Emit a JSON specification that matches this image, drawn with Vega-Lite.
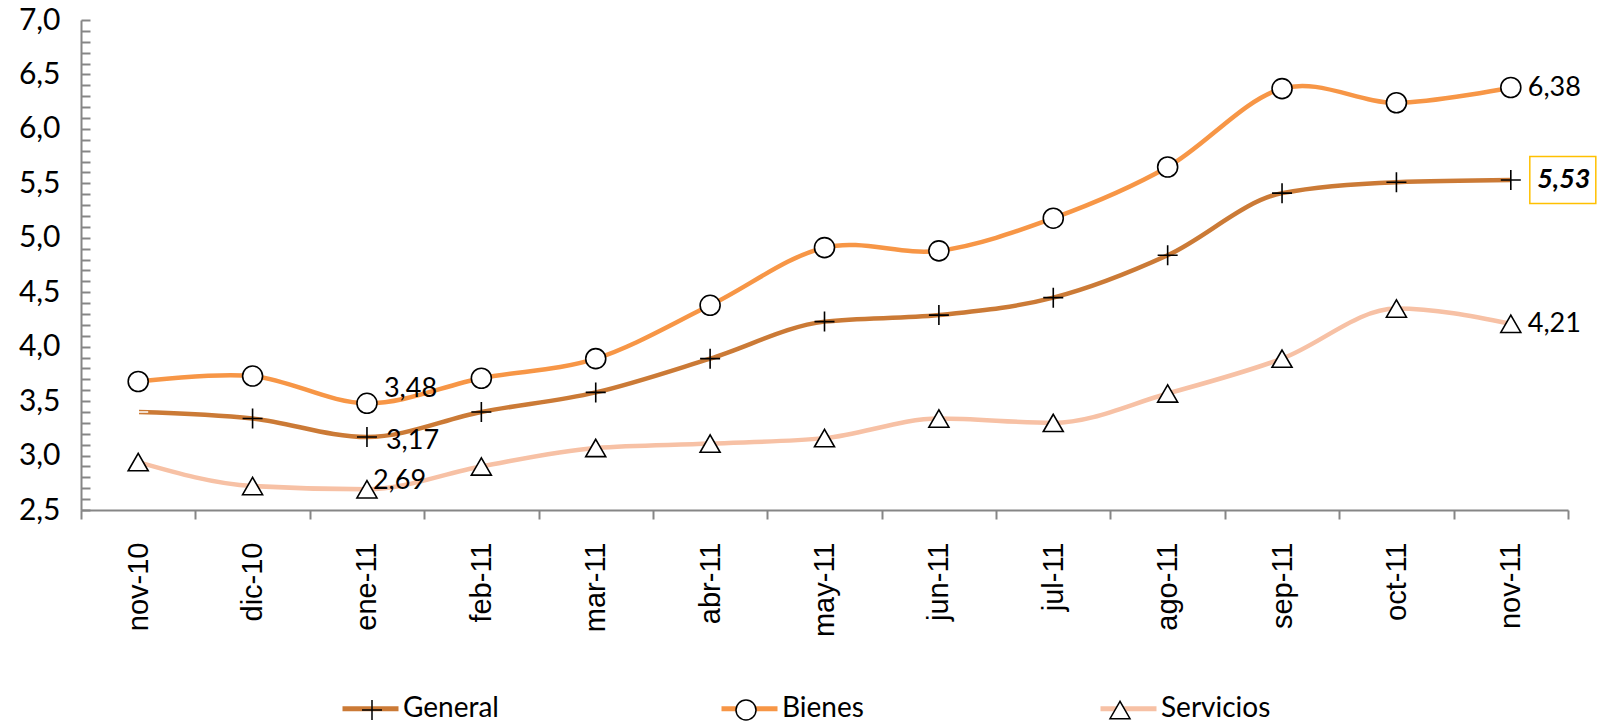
{
  "$schema": "https://vega.github.io/schema/vega-lite/v6.json",
  "width": 1487,
  "height": 490,
  "autosize": {"type": "none"},
  "padding": {"left": 81, "top": 20, "right": 46, "bottom": 211},
  "background": "white",
  "config": {
    "view": {"stroke": null},
    "locale": {"number": {"decimal": ",", "thousands": ".", "grouping": [3], "currency": ["", " €"]}}
  },
  "datasets": {
    "ipc": [
      {"mes": "nov-10", "serie": "General", "valor": 3.40},
      {"mes": "dic-10", "serie": "General", "valor": 3.34},
      {"mes": "ene-11", "serie": "General", "valor": 3.17},
      {"mes": "feb-11", "serie": "General", "valor": 3.40},
      {"mes": "mar-11", "serie": "General", "valor": 3.58},
      {"mes": "abr-11", "serie": "General", "valor": 3.89},
      {"mes": "may-11", "serie": "General", "valor": 4.23},
      {"mes": "jun-11", "serie": "General", "valor": 4.29},
      {"mes": "jul-11", "serie": "General", "valor": 4.45},
      {"mes": "ago-11", "serie": "General", "valor": 4.84},
      {"mes": "sep-11", "serie": "General", "valor": 5.41},
      {"mes": "oct-11", "serie": "General", "valor": 5.51},
      {"mes": "nov-11", "serie": "General", "valor": 5.53},
      {"mes": "nov-10", "serie": "Bienes", "valor": 3.68},
      {"mes": "dic-10", "serie": "Bienes", "valor": 3.73},
      {"mes": "ene-11", "serie": "Bienes", "valor": 3.48},
      {"mes": "feb-11", "serie": "Bienes", "valor": 3.71},
      {"mes": "mar-11", "serie": "Bienes", "valor": 3.89},
      {"mes": "abr-11", "serie": "Bienes", "valor": 4.38},
      {"mes": "may-11", "serie": "Bienes", "valor": 4.91},
      {"mes": "jun-11", "serie": "Bienes", "valor": 4.88},
      {"mes": "jul-11", "serie": "Bienes", "valor": 5.18},
      {"mes": "ago-11", "serie": "Bienes", "valor": 5.65},
      {"mes": "sep-11", "serie": "Bienes", "valor": 6.37},
      {"mes": "oct-11", "serie": "Bienes", "valor": 6.24},
      {"mes": "nov-11", "serie": "Bienes", "valor": 6.38},
      {"mes": "nov-10", "serie": "Servicios", "valor": 2.94},
      {"mes": "dic-10", "serie": "Servicios", "valor": 2.72},
      {"mes": "ene-11", "serie": "Servicios", "valor": 2.69},
      {"mes": "feb-11", "serie": "Servicios", "valor": 2.90},
      {"mes": "mar-11", "serie": "Servicios", "valor": 3.07},
      {"mes": "abr-11", "serie": "Servicios", "valor": 3.11},
      {"mes": "may-11", "serie": "Servicios", "valor": 3.16},
      {"mes": "jun-11", "serie": "Servicios", "valor": 3.34},
      {"mes": "jul-11", "serie": "Servicios", "valor": 3.30},
      {"mes": "ago-11", "serie": "Servicios", "valor": 3.57},
      {"mes": "sep-11", "serie": "Servicios", "valor": 3.89},
      {"mes": "oct-11", "serie": "Servicios", "valor": 4.35},
      {"mes": "nov-11", "serie": "Servicios", "valor": 4.21}
    ]
  },
  "data": {"name": "ipc"},
  "encoding": {
    "x": {
      "field": "mes",
      "type": "nominal",
      "sort": null,
      "bandPosition": 0.5,
      "scale": {"type": "band", "paddingInner": 0, "paddingOuter": 0},
      "axis": {
        "title": null,
        "labelAngle": -90,
        "labelAlign": "right",
        "labelBaseline": "middle",
        "labelFont": "Liberation Sans",
        "labelFontSize": 29,
        "labelColor": "black",
        "labelPadding": 23,
        "tickBand": "extent",
        "tickSize": 9,
        "tickColor": "#868686",
        "tickWidth": 2,
        "domainColor": "#868686",
        "domainWidth": 2,
        "grid": false
      }
    },
    "y": {
      "field": "valor",
      "type": "quantitative",
      "scale": {"domain": [2.5, 7.0], "nice": false, "zero": false},
      "axis": {
        "title": null,
        "format": ".1f",
        "values": [2.5,2.6,2.7,2.8,2.9,3.0,3.1,3.2,3.3,3.4,3.5,3.6,3.7,3.8,3.9,4.0,4.1,4.2,4.3,4.4,4.5,4.6,4.7,4.8,4.9,5.0,5.1,5.2,5.3,5.4,5.5,5.6,5.7,5.8,5.9,6.0,6.1,6.2,6.3,6.4,6.5,6.6,6.7,6.8,6.9,7.0],
        "labelExpr": "abs(datum.value*2 - round(datum.value*2)) < 0.01 ? datum.label : ''",
        "labelFont": "Lato",
        "labelFontSize": 30,
        "labelColor": "black",
        "labelPadding": 30,
        "tickSize": -9,
        "tickColor": "#868686",
        "tickWidth": 2,
        "domainColor": "#868686",
        "domainWidth": 2,
        "grid": false
      }
    }
  },
  "layer": [
    {
      "transform": [{"filter": "datum.serie !== 'Bienes'"}],
      "mark": {"type": "line", "interpolate": "monotone", "strokeWidth": 4.5},
      "encoding": {
        "color": {
          "field": "serie",
          "type": "nominal",
          "scale": {"domain": ["General", "Bienes", "Servicios"], "range": ["#CB7A36", "#F79646", "#F7C1A5"]},
          "legend": {
            "title": null,
            "orient": "none",
            "direction": "horizontal",
            "columns": 3,
            "gridAlign": "all",
            "legendX": 259,
            "legendY": 658,
            "padding": 0,
            "columnPadding": 198,
            "symbolType": "stroke",
            "symbolSize": 3136,
            "symbolStrokeWidth": 5,
            "labelFont": "Lato",
            "labelFontSize": 28,
            "labelColor": "black",
            "labelOffset": 2
          }
        }
      }
    },
    {
      "transform": [{"filter": "datum.serie === 'Bienes'"}],
      "mark": {"type": "line", "interpolate": "cardinal", "strokeWidth": 4.5},
      "encoding": {
        "color": {"field": "serie", "type": "nominal"}
      }
    },
    {
      "mark": {"type": "point", "filled": true, "fill": "white", "strokeWidth": 1.6, "size": 400, "opacity": 1},
      "encoding": {
        "shape": {
          "field": "serie",
          "type": "nominal",
          "sort": ["General", "Bienes", "Servicios"],
          "scale": {"range": ["M-1,0H1M0,-1V1", "circle", "triangle-up"]},
          "legend": {
            "title": null,
            "orient": "none",
            "direction": "horizontal",
            "columns": 3,
            "gridAlign": "all",
            "legendX": 277,
            "legendY": 676,
            "padding": 0,
            "columnPadding": 346,
            "symbolSize": 400,
            "labelExpr": "''",
            "labelFont": "Lato",
            "labelFontSize": 28,
            "labelOffset": 0,
            "encode": {
              "symbols": {"update": {"fill": {"value": "white"}, "stroke": {"value": "black"}, "strokeWidth": {"value": 1.6}, "opacity": {"value": 1}}}
            }
          }
        },
        "stroke": {
          "condition": {"test": "datum.mes === 'nov-10' && datum.serie === 'General'", "value": "white"},
          "value": "black"
        }
      }
    },
    {
      "transform": [{"filter": "datum.mes === 'nov-11' && datum.serie === 'General'"}],
      "mark": {"type": "point", "shape": "M-1,-0.712H1V0.712H-1Z", "size": 4356, "filled": true, "fill": "white", "stroke": "#FFC000", "strokeWidth": 1.5, "xOffset": 52, "opacity": 1}
    },
    {
      "transform": [{"filter": "datum.mes === 'nov-11' && datum.serie === 'General'"}],
      "mark": {"type": "text", "font": "Lato", "fontSize": 27, "fontWeight": "bold", "fontStyle": "italic", "align": "center", "baseline": "middle", "dx": 53, "color": "black"},
      "encoding": {"text": {"field": "valor", "type": "quantitative", "format": ".2f"}}
    },
    {
      "transform": [{"filter": "datum.mes === 'nov-11' && datum.serie !== 'General'"}],
      "mark": {"type": "text", "font": "Lato", "fontSize": 27, "align": "left", "baseline": "middle", "dx": 17, "color": "black"},
      "encoding": {"text": {"field": "valor", "type": "quantitative", "format": ".2f"}}
    },
    {
      "transform": [{"filter": "datum.mes === 'ene-11' && datum.serie === 'Bienes'"}],
      "mark": {"type": "text", "font": "Lato", "fontSize": 27, "align": "left", "baseline": "middle", "dx": 17, "dy": -14, "color": "black"},
      "encoding": {"text": {"field": "valor", "type": "quantitative", "format": ".2f"}}
    },
    {
      "transform": [{"filter": "datum.mes === 'ene-11' && datum.serie === 'General'"}],
      "mark": {"type": "text", "font": "Lato", "fontSize": 27, "align": "left", "baseline": "middle", "dx": 19, "dy": 4, "color": "black"},
      "encoding": {"text": {"field": "valor", "type": "quantitative", "format": ".2f"}}
    },
    {
      "transform": [{"filter": "datum.mes === 'ene-11' && datum.serie === 'Servicios'"}],
      "mark": {"type": "text", "font": "Lato", "fontSize": 27, "align": "left", "baseline": "middle", "dx": 6, "dy": -8, "color": "black"},
      "encoding": {"text": {"field": "valor", "type": "quantitative", "format": ".2f"}}
    }
  ]
}
